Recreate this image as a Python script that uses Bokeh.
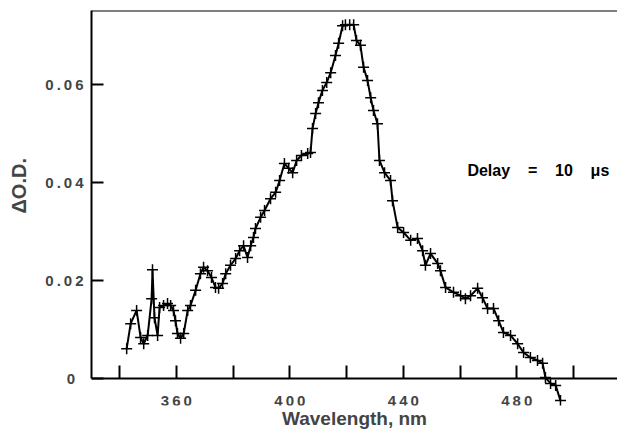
from bokeh.plotting import figure
from bokeh.models import FixedTicker, LinearAxis, Label, ColumnDataSource, Title
from bokeh.embed import file_html
from bokeh.resources import INLINE

# ---- data ----
wavelength = [342.5, 343.9, 346.0, 347.4, 348.5, 349.9, 351.3, 351.6, 352.3, 353.4,
              354.1, 355.5, 356.9, 358.0, 359.0, 359.7, 360.4, 361.5, 362.6, 364.0,
              365.0, 366.8, 368.5, 369.6, 371.0, 372.4, 373.8, 374.9, 376.3, 377.4,
              379.1, 380.9, 382.3, 383.7, 385.1, 386.2, 387.2, 387.9, 389.7, 391.1,
              393.2, 395.0, 396.4, 398.1, 399.6, 401.0, 402.4, 404.1, 406.3, 407.3,
              408.0, 409.1, 410.1, 411.5, 413.0, 414.4, 416.1, 417.2, 418.6, 419.6,
              421.1, 422.5, 423.5, 424.9, 426.0, 427.4, 428.5, 429.5, 430.9, 431.6,
              433.4, 435.5, 436.2, 438.0, 440.1, 442.6, 445.0, 446.8, 447.8, 449.6,
              452.1, 453.1, 454.9, 457.7, 460.2, 461.9, 463.7, 466.2, 467.9, 469.7,
              471.8, 473.6, 475.3, 477.8, 480.3, 482.4, 484.8, 487.3, 489.1, 490.1,
              491.9, 493.7, 495.4]
delta_od = [0.0061, 0.0112, 0.0139, 0.0084, 0.0071, 0.0088, 0.0163, 0.0222, 0.0124, 0.0088,
            0.0145, 0.0149, 0.0153, 0.0149, 0.0139, 0.0118, 0.0092, 0.0082, 0.0092, 0.0139,
            0.0149, 0.0180, 0.0214, 0.0227, 0.0220, 0.0206, 0.0186, 0.0184, 0.0194, 0.0214,
            0.0231, 0.0245, 0.0261, 0.0271, 0.0247, 0.0271, 0.0288, 0.0306, 0.0329, 0.0343,
            0.0367, 0.0380, 0.0404, 0.0439, 0.0429, 0.0420, 0.0445, 0.0455, 0.0459, 0.0461,
            0.0510, 0.0541, 0.0563, 0.0588, 0.0604, 0.0624, 0.0659, 0.0684, 0.0720, 0.0722,
            0.0722, 0.0722, 0.0690, 0.0680, 0.0635, 0.0608, 0.0573, 0.0547, 0.0520, 0.0445,
            0.0420, 0.0404, 0.0363, 0.0308, 0.0298, 0.0282, 0.0286, 0.0261, 0.0231, 0.0255,
            0.0235, 0.0220, 0.0186, 0.0176, 0.0169, 0.0163, 0.0169, 0.0184, 0.0165, 0.0143,
            0.0143, 0.0118, 0.0094, 0.0088, 0.0071, 0.0053, 0.0043, 0.0037, 0.0031, 0.0002,
            -0.0010, -0.0014, -0.0045]

x_tick_values = [360, 400, 440, 480]
x_minor_ticks = [340, 380, 420, 460, 500]
x_tick_labels = ["360", "400", "440", "480"]
y_tick_values = [0, 0.02, 0.04, 0.06]
y_tick_labels = ["0", "0.02", "0.04", "0.06"]
x_title = "Wavelength, nm"
y_title = "\u0394O.D."
annotation = "Delay = 10 \u03bcs"

FONT = "Liberation Sans"
THIN = "\u2009"
NBSP = "\u00a0"


def spaced(s):
    return THIN.join(list(s))


def ylab(s):
    # the lone "0" sits a little left of the other labels in the reference
    return s + NBSP * 2 if s == "0" else spaced(s)


p = figure(width=617, height=439, x_range=(330.1, 515.5), y_range=(-0.0055, 0.0751),
           output_backend="svg", toolbar_location=None,
           min_border_left=91, min_border_right=0, min_border_top=10, min_border_bottom=34)
p.outline_line_color = None
p.xgrid.visible = False
p.ygrid.visible = False
p.background_fill_color = "white"
p.border_fill_color = "white"

src = ColumnDataSource(dict(x=wavelength, y=delta_od))
p.line("x", "y", source=src, line_color="black", line_width=2)
p.scatter("x", "y", source=src, marker="cross", size=11, line_color="black", line_width=1.5)

# x axis (drawn at zero so the data may run below it)
xa = p.xaxis[0]
xa.fixed_location = 0
xa.ticker = FixedTicker(ticks=x_tick_values, minor_ticks=x_minor_ticks)
xa.major_label_overrides = {v: spaced(l) for v, l in zip(x_tick_values, x_tick_labels)}
xa.major_tick_in = 13
xa.major_tick_out = 0
xa.minor_tick_in = 13
xa.minor_tick_out = 0
xa.major_tick_line_width = 2
xa.minor_tick_line_width = 2
xa.axis_line_width = 2
xa.major_label_text_font = FONT
xa.major_label_text_font_style = "bold"
xa.major_label_text_font_size = "15px"
xa.major_label_standoff = 13

p.add_layout(Title(text=x_title, align="center", text_font=FONT, text_font_style="bold",
                   text_font_size="19px", standoff=0, offset=0), "below")

# y axis
ya = p.yaxis[0]
ya.bounds = (0, 0.0751)
ya.ticker = FixedTicker(ticks=y_tick_values, minor_ticks=[])
ya.major_label_overrides = {v: ylab(l) for v, l in zip(y_tick_values, y_tick_labels)}
ya.major_tick_in = 12
ya.major_tick_out = 0
ya.minor_tick_in = 0
ya.minor_tick_out = 0
ya.major_tick_line_width = 2
ya.axis_line_width = 2
ya.major_label_text_font = FONT
ya.major_label_text_font_style = "bold"
ya.major_label_text_font_size = "15px"
ya.major_label_standoff = 8
ya.axis_label = NBSP * 8 + y_title
ya.axis_label_text_font = FONT
ya.axis_label_text_font_style = "bold"
ya.axis_label_text_font_size = "20px"
ya.axis_label_standoff = 12

# top frame line
top = LinearAxis(fixed_location=0.0751, ticker=FixedTicker(ticks=[], minor_ticks=[]),
                 major_tick_in=0, major_tick_out=0, minor_tick_in=0, minor_tick_out=0,
                 major_label_text_font_size="0px", axis_line_width=2)
p.add_layout(top, "above")

p.add_layout(Label(x=462.6, y=0.0424, text=annotation.replace(" ", NBSP * 4),
                   text_font=FONT, text_font_style="bold", text_font_size="16px",
                   text_baseline="alphabetic", text_align="left", text_color="black"))

open("out.html", "w").write(file_html(p, INLINE))
